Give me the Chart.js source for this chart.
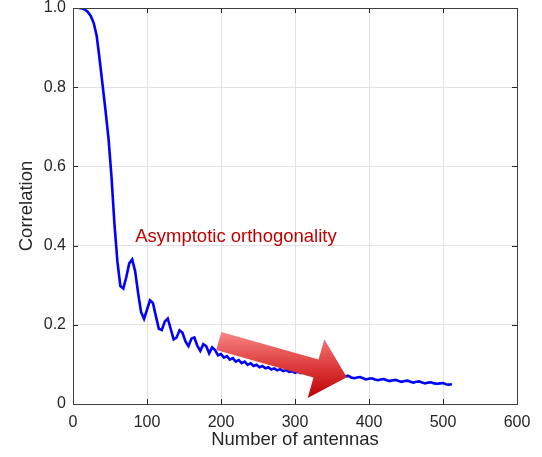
<!DOCTYPE html>
<html>
<head>
<meta charset="utf-8">
<script src="https://cdn.jsdelivr.net/npm/chart.js@4"></script>
<style>
  html,body{margin:0;padding:0;background:#fff;}
  #wrap{width:542px;height:457px;position:relative;}
</style>
</head>
<body>
<div id="wrap"><canvas id="c" width="542" height="457"></canvas></div>
<script>
// ---- data ----
const antennas = [8,12,16,20,24,28,32,36,40,44,48,52,56,60,64,68,72,76,80,84,88,92,96,100,104,108,112,116,120,124,128,132,136,140,144,148,152,156,160,164,168,172,176,180,184,188,192,196,200,204,208,212,216,220,224,228,232,236,240,244,248,252,256,260,264,268,272,276,280,284,288,292,296,300,304,308,312,316,320,324,328,332,336,340,344,348,352,356,360,364,368,372,376,380,384,388,392,396,400,404,408,412,416,420,424,428,432,436,440,444,448,452,456,460,464,468,472,476,480,484,488,492,496,500,504,508,512];
const correlation = [1.000,0.999,0.996,0.990,0.980,0.962,0.930,0.870,0.805,0.740,0.670,0.575,0.455,0.360,0.298,0.292,0.320,0.355,0.365,0.335,0.280,0.232,0.215,0.238,0.262,0.255,0.222,0.190,0.187,0.208,0.216,0.190,0.163,0.168,0.186,0.180,0.158,0.146,0.165,0.168,0.147,0.134,0.151,0.146,0.128,0.143,0.136,0.123,0.126,0.117,0.121,0.112,0.116,0.107,0.111,0.103,0.107,0.099,0.103,0.096,0.099,0.093,0.096,0.090,0.093,0.087,0.090,0.085,0.088,0.083,0.086,0.081,0.083,0.079,0.082,0.078,0.080,0.076,0.078,0.074,0.077,0.073,0.075,0.071,0.074,0.070,0.072,0.069,0.071,0.067,0.070,0.071,0.067,0.065,0.067,0.068,0.065,0.062,0.064,0.065,0.062,0.060,0.062,0.063,0.060,0.058,0.060,0.061,0.058,0.056,0.058,0.059,0.056,0.054,0.056,0.057,0.054,0.052,0.054,0.055,0.052,0.051,0.052,0.053,0.050,0.049,0.050];
const xTickValues = [0,100,200,300,400,500,600];
const yTickValues = [0,0.2,0.4,0.6,0.8,1.0];
const yTickLabels = ['0','0.2','0.4','0.6','0.8','1.0'];
const xTitle = 'Number of antennas';
const yTitle = 'Correlation';
const noteText = 'Asymptotic orthogonality';
const noteAt = [84, 0.408];          // data coords, left/baseline of note
const arrowFrom = [197, 0.159];      // tail centre (data coords)
const arrowTo = [370, 0.0675];       // tip (data coords)

const AX = '#262626';
const FONT = '"Liberation Sans", Arial, Helvetica, sans-serif';

const decor = {
  id: 'decor',
  afterDatasetsDraw(chart) {
    const {ctx, scales: {x, y}} = chart;
    ctx.save();
    ctx.fillStyle = '#c00000';
    ctx.font = '18.5px ' + FONT;
    ctx.textAlign = 'left';
    ctx.textBaseline = 'alphabetic';
    ctx.fillText(noteText, x.getPixelForValue(noteAt[0]), y.getPixelForValue(noteAt[1]));
    ctx.restore();

    const tx = x.getPixelForValue(arrowFrom[0]), ty = y.getPixelForValue(arrowFrom[1]);
    const px = x.getPixelForValue(arrowTo[0]), py = y.getPixelForValue(arrowTo[1]);
    const L = Math.hypot(px - tx, py - ty);
    const ux = (px - tx) / L, uy = (py - ty) / L;
    const nx = -uy, ny = ux;
    const sw = 9.3, hw = 30.5, hl = 32;
    const bx = px - ux * hl, by = py - uy * hl;
    const pts = [
      [tx - nx * sw, ty - ny * sw],
      [bx - nx * sw, by - ny * sw],
      [bx - nx * hw, by - ny * hw],
      [px, py],
      [bx + nx * hw, by + ny * hw],
      [bx + nx * sw, by + ny * sw],
      [tx + nx * sw, ty + ny * sw]
    ];
    let minY = Infinity, maxY = -Infinity;
    pts.forEach(p => { minY = Math.min(minY, p[1]); maxY = Math.max(maxY, p[1]); });
    const g = ctx.createLinearGradient(0, minY, 0, maxY);
    g.addColorStop(0, '#f78585');
    g.addColorStop(0.5, '#de3d3d');
    g.addColorStop(1, '#bd0000');
    ctx.save();
    ctx.beginPath();
    pts.forEach((p, i) => i ? ctx.lineTo(p[0], p[1]) : ctx.moveTo(p[0], p[1]));
    ctx.closePath();
    ctx.fillStyle = g;
    ctx.fill();
    ctx.restore();
  },
  afterDraw(chart) {
    const {ctx, chartArea: a, scales: {x, y}} = chart;
    ctx.save();
    ctx.strokeStyle = AX;
    ctx.lineWidth = 1;
    const tl = 5;
    ctx.beginPath();
    xTickValues.forEach(v => {
      const p = Math.round(x.getPixelForValue(v)) + 0.5;
      ctx.moveTo(p, a.bottom); ctx.lineTo(p, a.bottom - tl);
      ctx.moveTo(p, a.top); ctx.lineTo(p, a.top + tl);
    });
    yTickValues.forEach(v => {
      const p = Math.round(y.getPixelForValue(v)) + 0.5;
      ctx.moveTo(a.left, p); ctx.lineTo(a.left + tl, p);
      ctx.moveTo(a.right, p); ctx.lineTo(a.right - tl, p);
    });
    ctx.stroke();
    ctx.strokeStyle = '#404040';
    ctx.strokeRect(Math.round(a.left) + 0.5, Math.round(a.top) + 0.5,
                   Math.round(a.right - a.left), Math.round(a.bottom - a.top));
    ctx.restore();
  }
};

new Chart(document.getElementById('c'), {
  type: 'line',
  data: {
    datasets: [{
      data: antennas.map((n, i) => ({x: n, y: correlation[i]})),
      borderColor: '#0000ff',
      borderWidth: 2.6,
      pointRadius: 0,
      tension: 0,
      fill: false
    }]
  },
  options: {
    responsive: false,
    animation: false,
    devicePixelRatio: 1,
    layout: {padding: {left: 0, right: 25, top: 8, bottom: 0}},
    plugins: {legend: {display: false}, tooltip: {enabled: false}},
    scales: {
      x: {
        type: 'linear', min: 0, max: 600,
        afterBuildTicks(s) { s.ticks = xTickValues.map(v => ({value: v})); },
        afterFit(s) { s.height = 53; s.paddingLeft = 0; s.paddingRight = 0; },
        grid: {color: '#e3e3e3', lineWidth: 1, drawTicks: false},
        border: {display: false},
        ticks: {color: AX, font: {family: FONT, size: 16}, padding: 9, maxRotation: 0,
                callback: v => String(v)},
        title: {display: true, text: xTitle, color: AX, font: {family: FONT, size: 18.5},
                padding: {top: 2, bottom: 6}}
      },
      y: {
        type: 'linear', min: 0, max: 1,
        afterBuildTicks(s) { s.ticks = yTickValues.map(v => ({value: v})); },
        afterFit(s) { s.width = 73; s.paddingTop = 0; s.paddingBottom = 0; },
        grid: {color: '#e3e3e3', lineWidth: 1, drawTicks: false},
        border: {display: false},
        ticks: {color: AX, font: {family: FONT, size: 16}, padding: 7,
                callback: (v) => yTickLabels[yTickValues.indexOf(v)] ?? ''},
        title: {display: true, text: yTitle, color: AX, font: {family: FONT, size: 18.5},
                padding: {top: 16, bottom: 0}}
      }
    }
  },
  plugins: [decor]
});
</script>
</body>
</html>
